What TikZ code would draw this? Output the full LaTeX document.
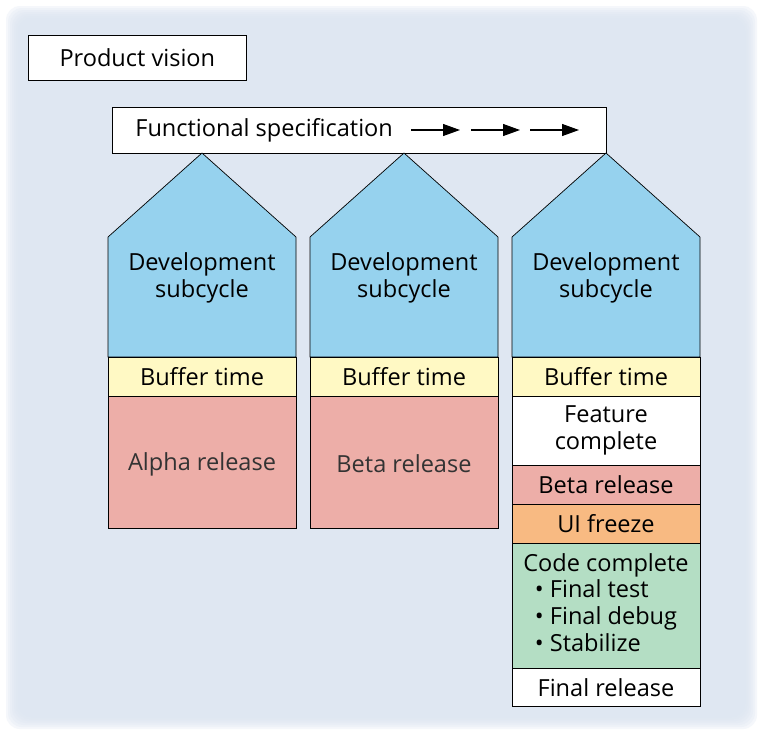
\documentclass[tikz,border=0pt]{standalone}
\usepackage{fontspec}
\setmainfont{Open Sans}
\usetikzlibrary{arrows.meta, positioning}
\definecolor{bgblue}{RGB}{222,231,242}
\definecolor{devblue}{RGB}{150,210,238}
\definecolor{bufyellow}{RGB}{255,249,196}
\definecolor{relpink}{RGB}{237,174,168}
\definecolor{uiorange}{RGB}{248,186,130}
\definecolor{codegreen}{RGB}{180,222,196}

\begin{document}
\begin{tikzpicture}[x=0.02cm, y=-0.02cm, line join=miter,
    every node/.style={font=\fontsize{13.4}{15.4}\selectfont, text=black},
    label box/.style={draw, fill=white, inner sep=0pt, anchor=north west},
    band/.style={draw, inner sep=0pt, minimum width=3.76cm, align=center, anchor=north},
    dev/.style={align=center, inner sep=0pt},
    flow/.style={-{Triangle[length=3.4mm,width=2.4mm]}, line width=0.6pt}]
    % background panel
    \useasboundingbox (0,0) rectangle (761,735);
    \fill[white] (0,0) rectangle (761,735);
    \foreach \i in {0,...,6}
        \fill[bgblue, opacity=0.3, rounded corners=8] (6+2*\i,6+2*\i) rectangle (757-2*\i,729-2*\i);

    % top boxes
    \node[label box, minimum width=4.36cm, minimum height=0.9cm] (vision) at (28,35) {};
    \node at (vision.center) {Product vision};
    \node[label box, minimum width=9.88cm, minimum height=0.92cm] (spec) at (112,107) {};
    \node[anchor=west, inner sep=0pt] (spectext) at (135,130) {Functional specification};
    \coordinate (a1) at (411,130); \coordinate (b1) at (460,130);
    \coordinate (a2) at (471,130); \coordinate (b2) at (520,130);
    \coordinate (a3) at (530,130); \coordinate (b3) at (579,130);
    \draw[flow] (a1) -- (b1);
    \draw[flow] (a2) -- (b2);
    \draw[flow] (a3) -- (b3);

    % development subcycles
    \foreach \c/\n in {202/1, 404/2, 606/3} {
        \filldraw[fill=devblue] (\c-94,357) -- (\c-94,237) -- (\c,153) -- (\c+94,237) -- (\c+94,357) -- cycle;
        \node[dev] (dev\n) at (\c,278) {Development\\subcycle};
        \node[band, fill=bufyellow, minimum height=0.78cm] (buf\n) at (\c,357) {Buffer time};
    }

    % releases
    \node[band, fill=relpink, minimum height=2.64cm] (alpha) at (202,396) {};
    \node[text=black!80] at (202,464) {Alpha release};
    \node[band, fill=relpink, minimum height=2.64cm] (beta) at (404,396) {};
    \node[text=black!80] at (404,464) {Beta release};
    \node[band, fill=white, minimum height=1.38cm] (feature) at (606,396) {Feature\\complete};
    \node[band, fill=relpink, minimum height=0.78cm] (beta3) at (606,465) {Beta release};
    \node[band, fill=uiorange, minimum height=0.78cm] (uifreeze) at (606,504) {UI freeze};
    \node[band, fill=codegreen, minimum height=2.5cm] (code) at (606,543) {};
    \node[dev, anchor=north] (codetext) at (606,553) {Code complete\\
        \begin{tabular}{@{}l@{}}\textbullet\ Final test\\ \textbullet\ Final debug\\ \textbullet\ Stabilize\end{tabular}};
    \node[band, fill=white, minimum height=0.76cm] (final) at (606,668) {Final release};
\end{tikzpicture}
\end{document}
